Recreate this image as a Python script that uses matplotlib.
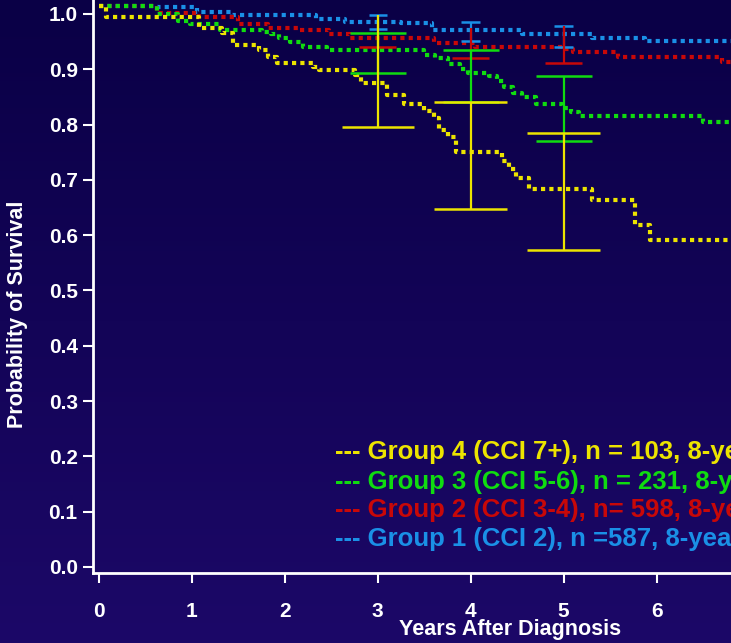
import numpy as np
import matplotlib
matplotlib.use("Agg")
import matplotlib.pyplot as plt

# Kaplan-Meier style survival steps (start of each level)
t_g4 = [0.00, 0.08, 1.08, 1.32, 1.44, 1.72, 1.82, 1.92, 2.30, 2.37, 2.76, 2.82, 3.10,
        3.28, 3.50, 3.60, 3.66, 3.75, 3.84, 4.34, 4.41, 4.49, 4.63, 5.30, 5.77, 5.93]
s_g4 = [1.015, 0.995, 0.974, 0.965, 0.944, 0.935, 0.922, 0.911, 0.905, 0.899, 0.890, 0.876, 0.854,
        0.837, 0.825, 0.812, 0.790, 0.778, 0.751, 0.735, 0.720, 0.703, 0.683, 0.664, 0.618, 0.591]

t_g3 = [0.00, 0.62, 0.85, 0.98, 1.30, 1.75, 1.85, 1.94, 2.06, 2.20, 2.45, 3.50, 3.62,
        3.76, 3.88, 3.97, 4.20, 4.28, 4.36, 4.45, 4.55, 4.70, 4.98, 5.08, 5.16, 6.50]
s_g3 = [1.015, 1.000, 0.987, 0.982, 0.971, 0.968, 0.963, 0.956, 0.950, 0.941, 0.934, 0.925, 0.920,
        0.910, 0.900, 0.893, 0.887, 0.878, 0.868, 0.857, 0.850, 0.838, 0.830, 0.822, 0.816, 0.805]

t_g2 = [0.00, 0.62, 1.08, 1.50, 1.82, 2.15, 2.48, 2.70, 3.60, 4.05, 5.00, 5.10, 5.58, 6.70]
s_g2 = [1.015, 1.001, 0.994, 0.982, 0.975, 0.971, 0.964, 0.956, 0.948, 0.941, 0.937, 0.932, 0.923, 0.914]

t_g1 = [0.00, 0.62, 1.05, 1.43, 2.33, 2.65, 3.25, 3.58, 4.55, 5.30, 5.88]
s_g1 = [1.015, 1.012, 1.003, 0.998, 0.991, 0.986, 0.983, 0.971, 0.964, 0.957, 0.952]

# confidence intervals at 3, 4 and 5 years
ci_years = [3, 4, 5]
ci_lo_g4 = [0.796, 0.648, 0.573]
ci_hi_g4 = [0.999, 0.840, 0.785]
ci_lo_g3 = [0.893, 0.840, 0.771]
ci_hi_g3 = [0.966, 0.935, 0.887]
ci_lo_g2 = [0.940, 0.920, 0.911]
ci_hi_g2 = [0.985, 0.975, 0.979]
ci_lo_g1 = [0.972, 0.951, 0.941]
ci_hi_g1 = [0.999, 0.986, 0.979]

labels = ["--- Group 4 (CCI 7+), n = 103, 8-year",
          "--- Group 3 (CCI 5-6), n = 231, 8-year",
          "--- Group 2 (CCI 3-4), n= 598, 8-year",
          "--- Group 1 (CCI 2), n =587, 8-year"]

x_ticks = [0, 1, 2, 3, 4, 5, 6]
y_ticks = [0.0, 0.1, 0.2, 0.3, 0.4, 0.5, 0.6, 0.7, 0.8, 0.9, 1.0]

c_yellow = "#ece400"
c_green = "#10dc10"
c_red = "#c80808"
c_blue = "#1a90e6"

font = ["Liberation Sans", "DejaVu Sans"]

fig = plt.figure(figsize=(7.31, 6.43), dpi=100)

# gradient background
bg = fig.add_axes([0, 0, 1, 1], zorder=-10)
grad = np.linspace(0, 1, 256).reshape(-1, 1)
cmap = matplotlib.colors.LinearSegmentedColormap.from_list("bg", ["#0a0046", "#1c0868"])
bg.imshow(grad, aspect="auto", cmap=cmap, extent=[0, 1, 0, 1], origin="upper")
bg.set_axis_off()

ax = fig.add_axes([93 / 731, 70 / 643, 638 / 731, 573 / 643])
ax.set_facecolor("none")
x_end = 6.8

groups = [
    (t_g1, s_g1, ci_lo_g1, ci_hi_g1, c_blue, 0.10, True),
    (t_g2, s_g2, ci_lo_g2, ci_hi_g2, c_red, 0.20, False),
    (t_g3, s_g3, ci_lo_g3, ci_hi_g3, c_green, 0.30, True),
    (t_g4, s_g4, ci_lo_g4, ci_hi_g4, c_yellow, 0.39, True),
]

for t, s, lo, hi, col, cap, top_cap in groups:
    tt = np.append(t, x_end)
    ss = np.append(s, s[-1])
    ax.plot(tt, ss, drawstyle="steps-post", color=col, lw=3.0,
            linestyle=(0, (1.0, 1.0)), dash_capstyle="butt", zorder=3)

for t, s, lo, hi, col, cap, top_cap in groups:
    ax.vlines(ci_years, lo, hi, color=col, lw=1.6, zorder=4)
    ax.hlines(lo, np.array(ci_years) - cap, np.array(ci_years) + cap, color=col, lw=1.8, zorder=4)
    for yr, h in zip(ci_years, hi):
        # the wide upper cap of group 4 at 3 years is not drawn in the original
        if top_cap and (h < 0.995 or cap < 0.2):
            ax.hlines(h, yr - cap, yr + cap, color=col, lw=1.8, zorder=4)

for sp in ["top", "right"]:
    ax.spines[sp].set_visible(False)
for sp in ["left", "bottom"]:
    ax.spines[sp].set_color("white")
    ax.spines[sp].set_linewidth(2)

ax.set_xticks(x_ticks)
ax.set_yticks(y_ticks)
ax.set_yticklabels([f"{v:.1f}" for v in y_ticks])
ax.set_xlim(-0.064, x_end)
ax.set_ylim(-0.011, 1.0253)
ax.tick_params(axis="both", colors="white", width=1.5, length=7, direction="out")
ax.tick_params(axis="x", pad=14)
ax.tick_params(axis="y", pad=4)
for lab in ax.get_xticklabels() + ax.get_yticklabels():
    lab.set_family(font)
    lab.set_fontweight("bold")
    lab.set_fontsize(15)
    lab.set_color("white")

fig.text(510 / 731, 1 - 630 / 643, "Years After Diagnosis", color="white", ha="center", va="center",
         family=font, fontweight="bold", fontsize=15.5)
fig.text(18 / 731, 1 - 314 / 643, "Probability of Survival", color="white", ha="center", va="center",
         rotation=90, family=font, fontweight="bold", fontsize=15.5)

# legend lines run past the right edge, as in the original slide
leg_colors = [c_yellow, c_green, c_red, c_blue]
leg_y = [452, 482, 510, 539]
for lab, col, y in zip(labels, leg_colors, leg_y):
    fig.text(335 / 731, 1 - y / 643, lab, color=col, ha="left", va="center",
             family=font, fontweight="bold", fontsize=18.5)

fig.savefig("out.png", dpi=100)
